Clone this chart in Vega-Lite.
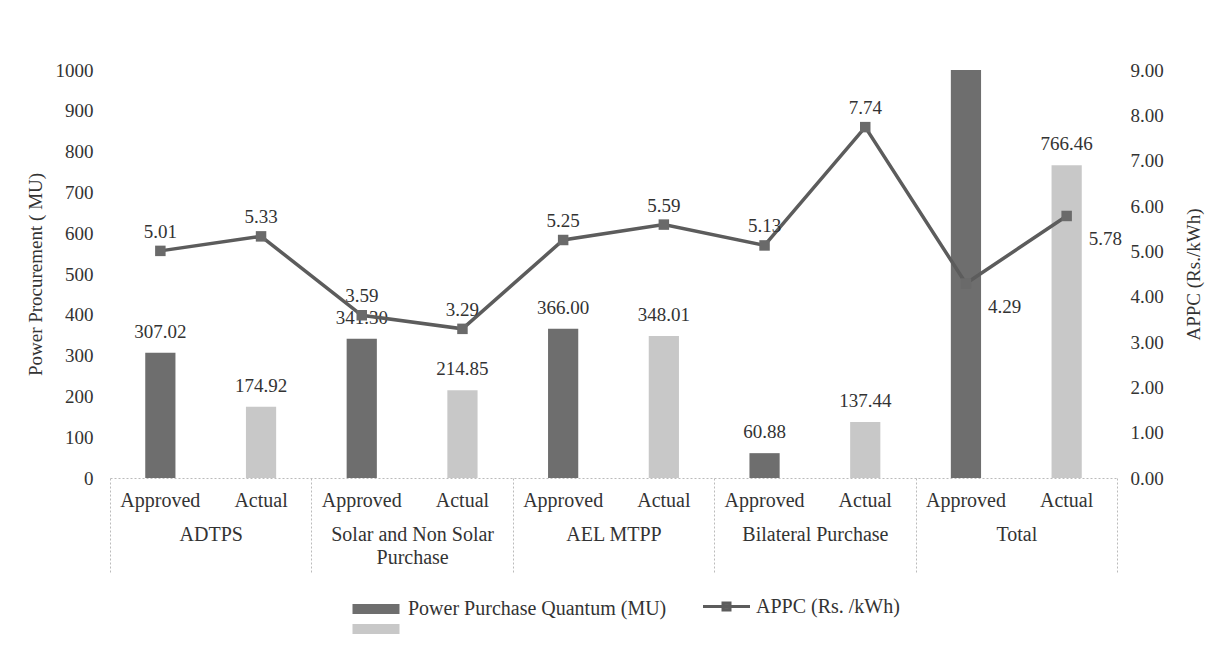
{
  "$schema": "https://vega.github.io/schema/vega-lite/v6.json",
  "width": 1007,
  "height": 408,
  "autosize": {"type": "none"},
  "padding": {"left": 110, "top": 70, "right": 103, "bottom": 186},
  "config": {
    "font": "Liberation Serif",
    "view": {"stroke": null},
    "axis": {"grid": false, "labelColor": "#333333", "titleColor": "#333333", "labelFontSize": 19, "titleFontSize": 19, "titleFontWeight": "normal", "labelFont": "Liberation Serif", "titleFont": "Liberation Serif"},
    "legend": {"labelFont": "Liberation Serif", "labelColor": "#333333"}
  },
  "data": {
    "values": [
      {"group": "ADTPS", "kind": "Approved", "cat": "ADTPS|Approved", "MU": 307.02, "APPC": 5.01},
      {"group": "ADTPS", "kind": "Actual", "cat": "ADTPS|Actual", "MU": 174.92, "APPC": 5.33},
      {"group": "Solar and Non Solar Purchase", "kind": "Approved", "cat": "Solar|Approved", "MU": 341.30, "APPC": 3.59},
      {"group": "Solar and Non Solar Purchase", "kind": "Actual", "cat": "Solar|Actual", "MU": 214.85, "APPC": 3.29},
      {"group": "AEL MTPP", "kind": "Approved", "cat": "AEL|Approved", "MU": 366.00, "APPC": 5.25},
      {"group": "AEL MTPP", "kind": "Actual", "cat": "AEL|Actual", "MU": 348.01, "APPC": 5.59},
      {"group": "Bilateral Purchase", "kind": "Approved", "cat": "Bilateral|Approved", "MU": 60.88, "APPC": 5.13},
      {"group": "Bilateral Purchase", "kind": "Actual", "cat": "Bilateral|Actual", "MU": 137.44, "APPC": 7.74},
      {"group": "Total", "kind": "Approved", "cat": "Total|Approved", "MU": 1075.20, "APPC": 4.29},
      {"group": "Total", "kind": "Actual", "cat": "Total|Actual", "MU": 766.46, "APPC": 5.78}
    ]
  },
  "layer": [
    {
      "layer": [
        {
          "mark": {"type": "bar", "width": {"band": 0.3}, "clip": true},
          "encoding": {
            "x": {"field": "cat", "type": "nominal", "sort": null,
              "scale": {"type": "band", "paddingInner": 0, "paddingOuter": 0},
              "axis": {"orient": "bottom", "title": null, "labelAngle": 0, "ticks": false, "domain": true, "domainColor": "#bbbbbb", "domainDash": [2, 2], "labelPadding": 12, "labelFontSize": 20, "labelExpr": "split(datum.value, '|')[1]"}},
            "y": {"field": "MU", "type": "quantitative",
              "scale": {"domain": [0, 1000], "nice": false},
              "axis": {"orient": "left", "title": "Power Procurement ( MU)", "values": [0, 100, 200, 300, 400, 500, 600, 700, 800, 900, 1000], "format": "d", "ticks": false, "domain": false, "labelPadding": 17, "titlePadding": 10}},
            "color": {"field": "kind", "type": "nominal",
              "scale": {"domain": ["Approved", "Actual"], "range": ["#6e6e6e", "#c8c8c8"]},
              "legend": {"orient": "none", "legendX": 256, "legendY": 529, "direction": "vertical", "title": null,
                "symbolType": "M-4.7,-1H4.7V1H-4.7Z", "symbolSize": 100, "symbolStrokeWidth": 0, "symbolOpacity": 1,
                "labelExpr": "datum.value == 'Approved' ? 'Power Purchase Quantum (MU)' : ''",
                "labelFontSize": 20, "labelOffset": 22, "labelLimit": 400, "rowPadding": -11}}
          }
        },
        {
          "transform": [{"filter": "datum.MU <= 1000"}],
          "mark": {"type": "text", "baseline": "alphabetic", "dy": -15, "fontSize": 19, "color": "#333333"},
          "encoding": {
            "x": {"field": "cat", "type": "nominal", "sort": null},
            "y": {"field": "MU", "type": "quantitative"},
            "text": {"field": "MU", "type": "quantitative", "format": ".2f"}
          }
        }
      ]
    },
    {
      "layer": [
        {
          "mark": {"type": "line", "strokeWidth": 3.5},
          "encoding": {
            "x": {"field": "cat", "type": "nominal", "sort": null,
              "scale": {"type": "band", "paddingInner": 0, "paddingOuter": 0}, "axis": null},
            "y": {"field": "APPC", "type": "quantitative",
              "scale": {"domain": [0, 9], "nice": false},
              "axis": {"orient": "right", "title": "APPC (Rs./kWh)", "titleAngle": 270, "values": [0, 1, 2, 3, 4, 5, 6, 7, 8, 9], "format": ".2f", "ticks": false, "domain": false, "labelPadding": 13, "titlePadding": 40}},
            "stroke": {"datum": "APPC (Rs. /kWh)",
              "scale": {"range": ["#5c5c5c"]},
              "legend": {"orient": "none", "legendX": 605, "legendY": 525, "title": null,
                "symbolType": "M-2.35,0H2.35M-0.35,-0.35H0.35V0.35H-0.35Z", "symbolSize": 400, "symbolStrokeWidth": 3,
                "symbolFillColor": "#6a6a6a", "labelFontSize": 20, "labelOffset": 18, "labelLimit": 300}}
          }
        },
        {
          "mark": {"type": "point", "shape": "square", "filled": true, "size": 110, "color": "#6a6a6a", "opacity": 1},
          "encoding": {
            "x": {"field": "cat", "type": "nominal", "sort": null},
            "y": {"field": "APPC", "type": "quantitative"}
          }
        },
        {
          "transform": [{"filter": "datum.group != 'Total'"}],
          "mark": {"type": "text", "baseline": "alphabetic", "dy": -13, "fontSize": 19, "color": "#333333"},
          "encoding": {
            "x": {"field": "cat", "type": "nominal", "sort": null},
            "y": {"field": "APPC", "type": "quantitative"},
            "text": {"field": "APPC", "type": "quantitative", "format": ".2f"}
          }
        },
        {
          "transform": [{"filter": "datum.group == 'Total'"}],
          "mark": {"type": "text", "baseline": "alphabetic", "align": "left", "dx": 22, "dy": 29, "fontSize": 19, "color": "#333333"},
          "encoding": {
            "x": {"field": "cat", "type": "nominal", "sort": null},
            "y": {"field": "APPC", "type": "quantitative"},
            "text": {"field": "APPC", "type": "quantitative", "format": ".2f"}
          }
        }
      ]
    },
    {
      "mark": {"type": "rule", "opacity": 0},
      "encoding": {
        "x": {"field": "group", "type": "nominal", "sort": null,
          "scale": {"type": "band", "paddingInner": 0, "paddingOuter": 0},
          "axis": {"orient": "bottom", "title": null, "domain": false, "ticks": true, "tickBand": "extent", "tickSize": 95, "tickColor": "#bbbbbb", "tickDash": [2, 2], "tickWidth": 1,
            "labelPadding": -49, "labelFontSize": 20, "labelLineHeight": 23, "labelAngle": 0, "labelLimit": 300,
            "labelExpr": "datum.value == 'Solar and Non Solar Purchase' ? ['Solar and Non Solar', 'Purchase'] : datum.value"}}
      }
    }
  ],
  "resolve": {"scale": {"x": "independent", "y": "independent"}}
}
